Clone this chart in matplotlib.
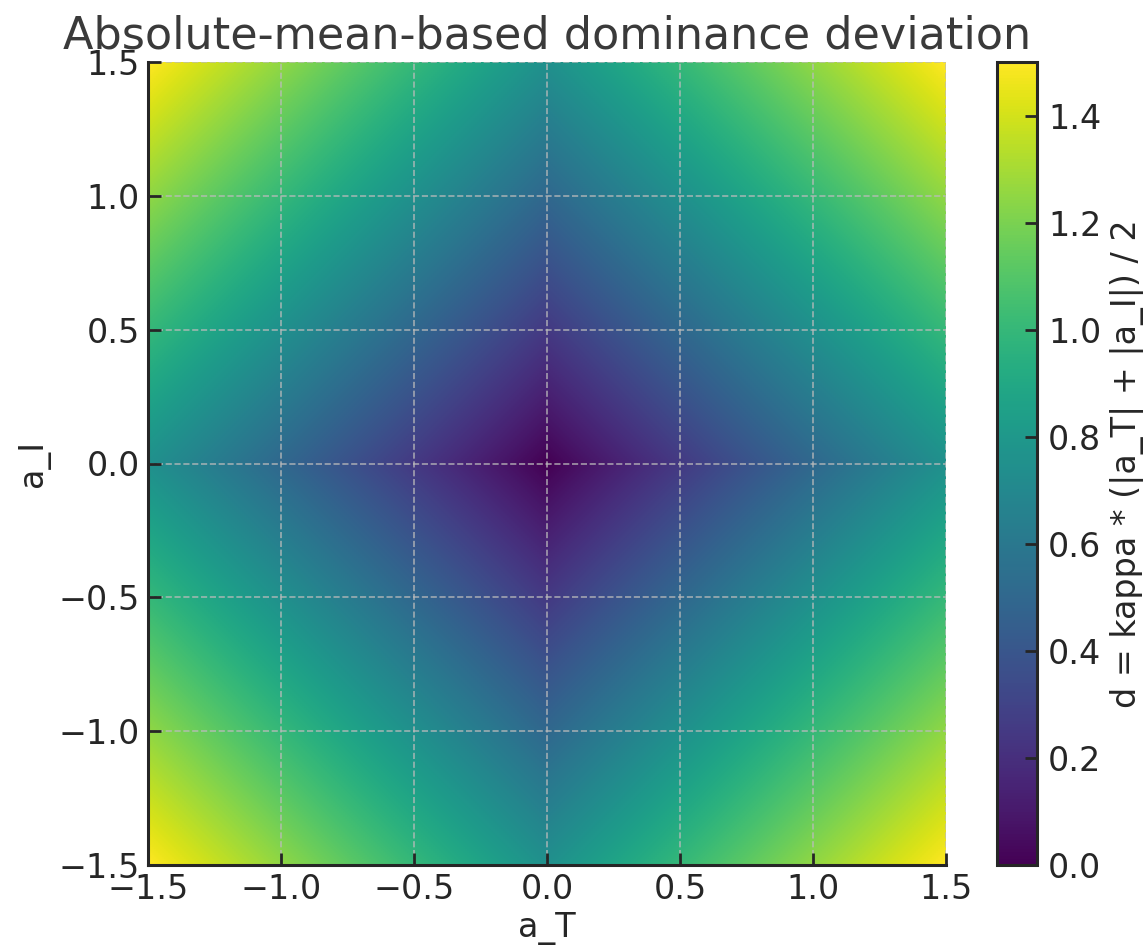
import numpy as np
import matplotlib
matplotlib.use("Agg")
import matplotlib.pyplot as plt

# Parameters of the dominance-deviation surface
kappa = 1.0
a_T_range = [-1.5, 1.5]
a_I_range = [-1.5, 1.5]
n_points = 400
tick_values = [-1.5, -1.0, -0.5, 0.0, 0.5, 1.0, 1.5]
cbar_ticks = [0.0, 0.2, 0.4, 0.6, 0.8, 1.0, 1.2, 1.4]

a_T = np.linspace(a_T_range[0], a_T_range[1], n_points)
a_I = np.linspace(a_I_range[0], a_I_range[1], n_points)
AT, AI = np.meshgrid(a_T, a_I)
d = kappa * (np.abs(AT) + np.abs(AI)) / 2

plt.rcParams['font.family'] = ['DejaVu Sans']
text_color = '#262626'

fig = plt.figure(figsize=(11.46, 9.51), dpi=100)
ax = fig.add_axes([148 / 1146, 1 - 865 / 951, (946 - 148) / 1146, (865 - 62) / 951])
cax = fig.add_axes([997 / 1146, 1 - 865 / 951, (1037 - 997) / 1146, (865 - 62) / 951])

im = ax.imshow(d, extent=[a_T_range[0], a_T_range[1], a_I_range[0], a_I_range[1]],
               origin='lower', cmap='viridis', aspect='auto', vmin=0, vmax=d.max())

ax.set_xlim(a_T_range)
ax.set_ylim(a_I_range)
ax.set_xticks(tick_values)
ax.set_yticks(tick_values)
ax.grid(True, linestyle='--', color='#bbbbbb', linewidth=1.2, alpha=0.8)
for s in ['top', 'right']:
    ax.spines[s].set_visible(False)
for s in ['left', 'bottom']:
    ax.spines[s].set_linewidth(2.2)
    ax.spines[s].set_color(text_color)
ax.tick_params(direction='in', length=9, width=2, labelsize=24, colors=text_color, pad=6)

ax.set_xlabel('a_T', fontsize=24, color=text_color, labelpad=4)
ax.set_ylabel('a_I', fontsize=24, color=text_color, labelpad=6)
ax.set_title('Absolute-mean-based dominance deviation', fontsize=32, color='#3a3a3a', pad=10)

cb = fig.colorbar(im, cax=cax)
cb.set_ticks(cbar_ticks)
cb.outline.set_linewidth(2.2)
cb.outline.set_edgecolor(text_color)
cax.tick_params(direction='in', length=9, width=2, labelsize=24, colors=text_color, pad=8)
cb.set_label('d = kappa * (|a_T| + |a_I|) / 2', fontsize=24, color=text_color, labelpad=6)

fig.savefig('out.png', dpi=100)
